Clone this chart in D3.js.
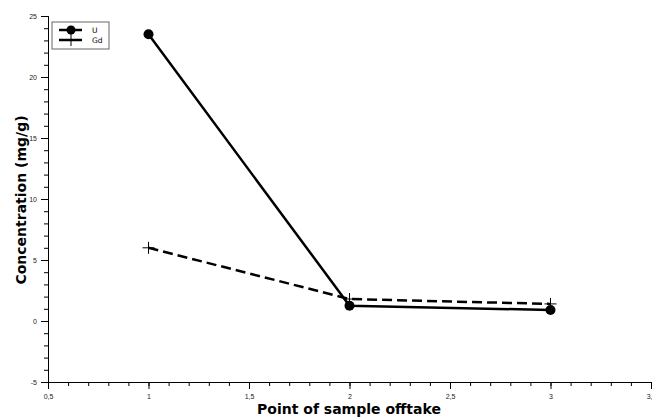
<!DOCTYPE html>
<html lang="en">
<head>
<meta charset="UTF-8">
<title>Concentration chart</title>
<script src="https://d3js.org/d3.v7.min.js"></script>
<style>
    * { margin: 0; padding: 0; }
    body { background: #fff; }
    svg { display: block; font-family: "DejaVu Sans", Verdana, sans-serif; }
    .tick text { font-size: 7px; fill: #222; }
    .axis path, .axis line { stroke: #000; }
</style>
</head>
<body>
<script>
    // data
    var points = [1, 2, 3]
    var uValues = [23.5, 1.25, 0.9]
    var gdValues = [6.0, 1.8, 1.4]
    var seriesNames = ["U", "Gd"]
    var yTicks = [-5, 0, 5, 10, 15, 20, 25]
    var xTicks = [0.5, 1, 1.5, 2, 2.5, 3, 3.5]

    var width = 652, height = 418
    var plotL = 48, plotR = 651, plotT = 16, plotB = 382

    var svg = d3.select("body").append("svg")
        .attr("width", width)
        .attr("height", height)

    var x = d3.scaleLinear().domain([0.5, 3.5]).range([plotL, plotR])
    var y = d3.scaleLinear().domain([-5, 25]).range([plotB, plotT])

    var fmt = function(d) { return String(d).replace(".", ",") }

    // minor ticks
    var yAxisMinor = d3.axisLeft(y).tickValues(d3.range(-5, 26, 1)).tickSize(4).tickFormat("")
    var xAxisMinor = d3.axisBottom(x).tickValues(d3.range(5, 36, 1).map(function(d) { return d / 10 })).tickSize(4).tickFormat("")

    svg.append("g").attr("class", "axis")
        .attr("transform", "translate(" + plotL + ",0)")
        .call(yAxisMinor)
    svg.append("g").attr("class", "axis")
        .attr("transform", "translate(0," + plotB + ")")
        .call(xAxisMinor)

    // major ticks
    svg.append("g").attr("class", "axis")
        .attr("transform", "translate(" + plotL + ",0)")
        .call(d3.axisLeft(y).tickValues(yTicks).tickSize(7).tickPadding(4).tickFormat(fmt))
    svg.append("g").attr("class", "axis")
        .attr("transform", "translate(0," + plotB + ")")
        .call(d3.axisBottom(x).tickValues(xTicks).tickSize(7).tickPadding(5).tickFormat(fmt))

    // axis titles
    svg.append("text")
        .attr("transform", "translate(26,200) rotate(-90)")
        .attr("text-anchor", "middle")
        .style("font-size", "14px")
        .style("font-weight", "bold")
        .text("Concentration (mg/g)")
    svg.append("text")
        .attr("x", 349)
        .attr("y", 414)
        .attr("text-anchor", "middle")
        .style("font-size", "14px")
        .style("font-weight", "bold")
        .text("Point of sample offtake")

    var line = d3.line()
        .x(function(d, i) { return x(points[i]) })
        .y(function(d) { return y(d) })

    // U series
    svg.append("path")
        .datum(uValues)
        .attr("d", line)
        .attr("fill", "none")
        .attr("stroke", "#000")
        .attr("stroke-width", 2.5)
    svg.selectAll(".u-dot")
        .data(uValues)
        .enter().append("circle")
        .attr("class", "u-dot")
        .attr("cx", function(d, i) { return x(points[i]) })
        .attr("cy", function(d) { return y(d) })
        .attr("r", 5)
        .attr("fill", "#000")

    // Gd series
    svg.append("path")
        .datum(gdValues)
        .attr("d", line)
        .attr("fill", "none")
        .attr("stroke", "#000")
        .attr("stroke-width", 2.5)
        .attr("stroke-dasharray", "10,5")
    svg.selectAll(".gd-mark")
        .data(gdValues)
        .enter().append("path")
        .attr("class", "gd-mark")
        .attr("transform", function(d, i) { return "translate(" + x(points[i]) + "," + y(d) + ")" })
        .attr("d", "M-6,0H6M0,-6V6")
        .attr("stroke", "#000")
        .attr("stroke-width", 1)

    // legend
    var lg = svg.append("g").attr("transform", "translate(52,22)")
    lg.append("rect")
        .attr("width", 57).attr("height", 27)
        .attr("fill", "#fff")
        .attr("stroke", "#666")
        .attr("stroke-width", 1)
    lg.append("line").attr("x1", 7).attr("x2", 30).attr("y1", 8).attr("y2", 8)
        .attr("stroke", "#000").attr("stroke-width", 2.5)
    lg.append("circle").attr("cx", 19).attr("cy", 8).attr("r", 4.5).attr("fill", "#000")
    lg.append("line").attr("x1", 7).attr("x2", 30).attr("y1", 18).attr("y2", 18)
        .attr("stroke", "#000").attr("stroke-width", 2.5)
    lg.append("path").attr("d", "M19,12V24").attr("stroke", "#000").attr("stroke-width", 1)
    lg.selectAll(".lg-text")
        .data(seriesNames)
        .enter().append("text")
        .attr("class", "lg-text")
        .attr("x", 40)
        .attr("y", function(d, i) { return 11 + i * 10 })
        .style("font-size", "7.5px")
        .text(function(d) { return d })
</script>
</body>
</html>
